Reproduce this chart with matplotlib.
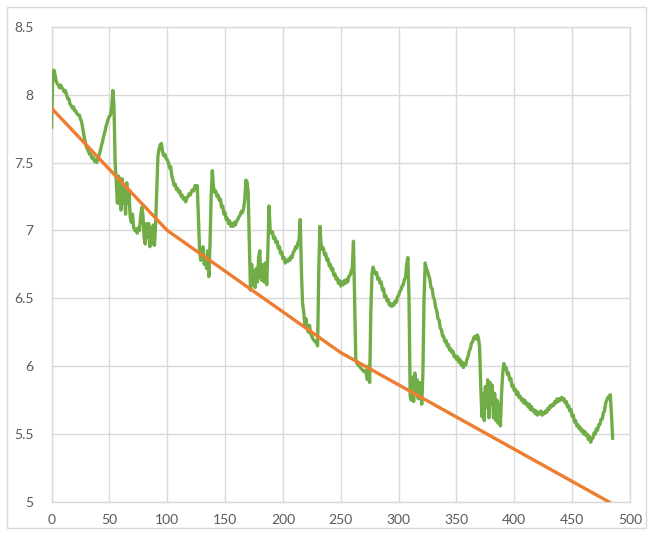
import matplotlib
matplotlib.use("Agg")
import matplotlib.pyplot as plt
from matplotlib.patches import Rectangle

# Orange reference line (piecewise)
orange_x = [0, 100, 250, 482]
orange_y = [7.9, 7.0, 6.1, 5.0]

# Green measured series (traced), as (x, y) pairs
green_pts = [
    (0, 7.76), (1, 8.10), (2, 8.18), (3, 8.15), (4, 8.10), (5, 8.08), (6, 8.07), (7, 8.05), (8, 8.07), (9, 8.05),
    (10, 8.04), (11, 8.02), (12, 8.03), (13, 8.00), (14, 7.97), (15, 7.97), (16, 7.93), (17, 7.92), (18, 7.90), (19, 7.91),
    (20, 7.88), (21, 7.88), (22, 7.86), (23, 7.85), (24, 7.85), (25, 7.82), (26, 7.80), (27, 7.75), (28, 7.70), (29, 7.66),
    (30, 7.62), (31, 7.60), (32, 7.58), (33, 7.56), (34, 7.56), (35, 7.53), (36, 7.54), (37, 7.51), (38, 7.52), (39, 7.50),
    (40, 7.52), (41, 7.55), (42, 7.58), (43, 7.62), (44, 7.65), (45, 7.69), (46, 7.72), (47, 7.76), (48, 7.79), (49, 7.82),
    (50, 7.84), (51, 7.85), (52, 7.90), (53, 8.03), (54, 7.92), (55, 7.50), (56, 7.35), (57, 7.20), (58, 7.40), (59, 7.25),
    (60, 7.15), (61, 7.38), (62, 7.20), (63, 7.32), (64, 7.12), (65, 7.35), (66, 7.20), (67, 7.28), (68, 7.10), (69, 7.06),
    (70, 7.12), (71, 7.02), (72, 7.00), (73, 7.01), (74, 6.98), (75, 7.02), (76, 7.00), (77, 7.10), (78, 7.17), (79, 7.12),
    (80, 6.95), (81, 6.90), (82, 7.05), (83, 6.95), (84, 7.05), (85, 6.88), (86, 7.02), (87, 6.90), (88, 7.04), (89, 6.89),
    (90, 7.05), (91, 7.30), (92, 7.55), (93, 7.60), (94, 7.63), (95, 7.64), (96, 7.58), (97, 7.55), (98, 7.56), (99, 7.53),
    (100, 7.52), (101, 7.50), (102, 7.46), (103, 7.47), (104, 7.40), (105, 7.37), (106, 7.33), (107, 7.34), (108, 7.30), (109, 7.31),
    (110, 7.28), (111, 7.29), (112, 7.25), (113, 7.26), (114, 7.23), (115, 7.24), (116, 7.21), (117, 7.24), (118, 7.25), (119, 7.27),
    (120, 7.26), (121, 7.29), (122, 7.30), (123, 7.29), (124, 7.33), (125, 7.31), (126, 7.33), (127, 7.10), (128, 6.85), (129, 6.78),
    (130, 6.83), (131, 6.88), (132, 6.75), (133, 6.80), (134, 6.72), (135, 6.85), (136, 6.66), (137, 6.90), (138, 7.25), (139, 7.44),
    (140, 7.32), (141, 7.28), (142, 7.29), (143, 7.25), (144, 7.26), (145, 7.22), (146, 7.23), (147, 7.17), (148, 7.18), (149, 7.12),
    (150, 7.13), (151, 7.08), (152, 7.09), (153, 7.05), (154, 7.07), (155, 7.03), (156, 7.05), (157, 7.03), (158, 7.06), (159, 7.04),
    (160, 7.07), (161, 7.08), (162, 7.10), (163, 7.11), (164, 7.14), (165, 7.13), (166, 7.16), (167, 7.22), (168, 7.37), (169, 7.36),
    (170, 7.28), (171, 6.90), (172, 6.56), (173, 6.75), (174, 6.60), (175, 6.70), (176, 6.58), (177, 6.72), (178, 6.62), (179, 6.80),
    (180, 6.85), (181, 6.65), (182, 6.63), (183, 6.75), (184, 6.62), (185, 6.76), (186, 6.60), (187, 6.85), (188, 7.18), (189, 7.00),
    (190, 6.98), (191, 6.99), (192, 6.94), (193, 6.95), (194, 6.91), (195, 6.92), (196, 6.87), (197, 6.88), (198, 6.83), (199, 6.84),
    (200, 6.79), (201, 6.80), (202, 6.76), (203, 6.78), (204, 6.77), (205, 6.79), (206, 6.78), (207, 6.81), (208, 6.80), (209, 6.84),
    (210, 6.85), (211, 6.88), (212, 6.87), (213, 6.91), (214, 6.93), (215, 7.08), (216, 6.70), (217, 6.46), (218, 6.40), (219, 6.30),
    (220, 6.35), (221, 6.28), (222, 6.25), (223, 6.30), (224, 6.24), (225, 6.22), (226, 6.20), (227, 6.19), (228, 6.18), (229, 6.17),
    (230, 6.15), (231, 6.70), (232, 7.03), (233, 6.90), (234, 6.86), (235, 6.87), (236, 6.82), (237, 6.83), (238, 6.78), (239, 6.79),
    (240, 6.74), (241, 6.75), (242, 6.71), (243, 6.72), (244, 6.67), (245, 6.68), (246, 6.64), (247, 6.65), (248, 6.61), (249, 6.63),
    (250, 6.59), (251, 6.62), (252, 6.60), (253, 6.63), (254, 6.61), (255, 6.64), (256, 6.62), (257, 6.66), (258, 6.67), (259, 6.70),
    (260, 6.72), (261, 6.92), (262, 6.50), (263, 6.05), (264, 6.02), (265, 6.01), (266, 6.00), (267, 5.99), (268, 5.98), (269, 5.97),
    (270, 5.96), (271, 5.97), (272, 5.95), (273, 5.90), (274, 6.00), (275, 5.88), (276, 6.40), (277, 6.68), (278, 6.73), (279, 6.70),
    (280, 6.68), (281, 6.69), (282, 6.64), (283, 6.65), (284, 6.61), (285, 6.62), (286, 6.56), (287, 6.57), (288, 6.51), (289, 6.52),
    (290, 6.48), (291, 6.49), (292, 6.45), (293, 6.46), (294, 6.44), (295, 6.46), (296, 6.45), (297, 6.48), (298, 6.47), (299, 6.51),
    (300, 6.52), (301, 6.55), (302, 6.56), (303, 6.59), (304, 6.60), (305, 6.64), (306, 6.65), (307, 6.75), (308, 6.80), (309, 6.50),
    (310, 5.78), (311, 5.75), (312, 5.92), (313, 5.74), (314, 5.95), (315, 5.80), (316, 5.90), (317, 5.76), (318, 5.88), (319, 5.82),
    (320, 5.72), (321, 5.95), (322, 6.50), (323, 6.76), (324, 6.72), (325, 6.70), (326, 6.67), (327, 6.64), (328, 6.58), (329, 6.57),
    (330, 6.51), (331, 6.49), (332, 6.43), (333, 6.41), (334, 6.35), (335, 6.34), (336, 6.28), (337, 6.27), (338, 6.22), (339, 6.22),
    (340, 6.18), (341, 6.19), (342, 6.15), (343, 6.16), (344, 6.12), (345, 6.13), (346, 6.10), (347, 6.11), (348, 6.07), (349, 6.08),
    (350, 6.05), (351, 6.07), (352, 6.03), (353, 6.05), (354, 6.01), (355, 6.03), (356, 5.99), (357, 6.02), (358, 6.01), (359, 6.05),
    (360, 6.07), (361, 6.11), (362, 6.13), (363, 6.17), (364, 6.18), (365, 6.21), (366, 6.22), (367, 6.20), (368, 6.23), (369, 6.21),
    (370, 6.14), (371, 5.85), (372, 5.63), (373, 5.80), (374, 5.60), (375, 5.85), (376, 5.70), (377, 5.90), (378, 5.62), (379, 5.88),
    (380, 5.72), (381, 5.86), (382, 5.62), (383, 5.80), (384, 5.60), (385, 5.75), (386, 5.58), (387, 5.72), (388, 5.56), (389, 5.80),
    (390, 5.95), (391, 6.02), (392, 5.98), (393, 5.99), (394, 5.94), (395, 5.95), (396, 5.90), (397, 5.91), (398, 5.85), (399, 5.86),
    (400, 5.82), (401, 5.83), (402, 5.79), (403, 5.81), (404, 5.77), (405, 5.78), (406, 5.75), (407, 5.76), (408, 5.73), (409, 5.75),
    (410, 5.72), (411, 5.73), (412, 5.70), (413, 5.72), (414, 5.68), (415, 5.70), (416, 5.67), (417, 5.68), (418, 5.65), (419, 5.67),
    (420, 5.64), (421, 5.66), (422, 5.65), (423, 5.67), (424, 5.64), (425, 5.66), (426, 5.65), (427, 5.67), (428, 5.66), (429, 5.69),
    (430, 5.68), (431, 5.71), (432, 5.70), (433, 5.72), (434, 5.71), (435, 5.74), (436, 5.73), (437, 5.76), (438, 5.74), (439, 5.76),
    (440, 5.75), (441, 5.77), (442, 5.75), (443, 5.76), (444, 5.73), (445, 5.74), (446, 5.70), (447, 5.71), (448, 5.67), (449, 5.68),
    (450, 5.63), (451, 5.64), (452, 5.59), (453, 5.60), (454, 5.56), (455, 5.57), (456, 5.54), (457, 5.55), (458, 5.52), (459, 5.53),
    (460, 5.50), (461, 5.52), (462, 5.49), (463, 5.50), (464, 5.46), (465, 5.48), (466, 5.44), (467, 5.47), (468, 5.47), (469, 5.51),
    (470, 5.50), (471, 5.54), (472, 5.53), (473, 5.57), (474, 5.57), (475, 5.61), (476, 5.61), (477, 5.66), (478, 5.67), (479, 5.73),
    (480, 5.75), (481, 5.77), (482, 5.78), (483, 5.79), (484, 5.64), (485, 5.47),
]
green_x = [p[0] for p in green_pts]
green_y = [p[1] for p in green_pts]

x_ticks = [0, 50, 100, 150, 200, 250, 300, 350, 400, 450, 500]
y_ticks = [5, 5.5, 6, 6.5, 7, 7.5, 8, 8.5]
y_labels = ["5", "5.5", "6", "6.5", "7", "7.5", "8", "8.5"]

W, H = 653, 538
fig = plt.figure(figsize=(W / 100, H / 100), dpi=100)
fig.patch.set_facecolor("white")
fig.patches.append(Rectangle((7 / W, 1 - 528 / H), (646 - 7) / W, (528 - 7) / H,
                             transform=fig.transFigure, fill=False,
                             edgecolor="#d9d9d9", linewidth=1.0))

ax = fig.add_axes([51.5 / W, 1 - 502 / H, (630 - 51.5) / W, (502 - 26.7) / H])
ax.set_xlim(0, 500)
ax.set_ylim(5, 8.5)
ax.set_xticks(x_ticks)
ax.set_xticklabels([str(v) for v in x_ticks])
ax.set_yticks(y_ticks)
ax.set_yticklabels(y_labels)
ax.grid(True, color="#d9d9d9", linewidth=1.0)
ax.set_axisbelow(True)
for s in ax.spines.values():
    s.set_color("#d9d9d9")
    s.set_linewidth(1.0)
ax.tick_params(length=0, labelsize=10, labelcolor="#595959")
ax.tick_params(axis="y", pad=13)
ax.tick_params(axis="x", pad=9)
for lab in ax.get_xticklabels() + ax.get_yticklabels():
    lab.set_fontfamily(["Lato", "DejaVu Sans"])

ax.plot(green_x, green_y, color="#70AD47", linewidth=2.4, solid_joinstyle="round", zorder=3)
ax.plot(orange_x, orange_y, color="#ED7D31", linewidth=2.4, solid_joinstyle="round", zorder=4)

fig.savefig("out.png", dpi=100)
